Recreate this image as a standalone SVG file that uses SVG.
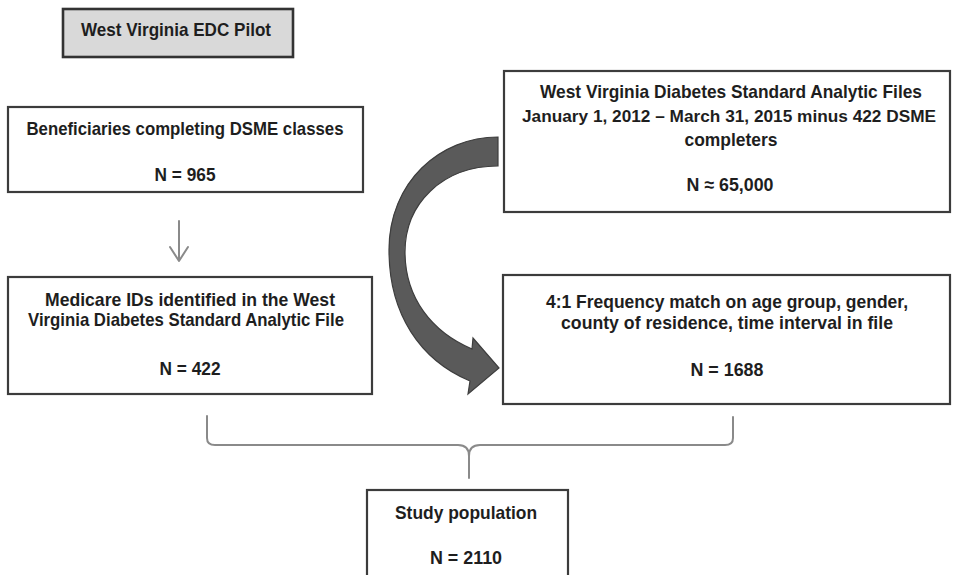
<svg xmlns="http://www.w3.org/2000/svg" width="953" height="575" viewBox="0 0 953 575">
  <defs>
    <style>
      .box { fill: #ffffff; stroke: #3c3c3c; stroke-width: 2.2; }
      .title { fill: #d9d9d9; stroke: #333333; stroke-width: 2.6; }
      .t { font-family: "Liberation Sans", Arial, sans-serif; font-weight: bold; font-size: 18.5px; fill: #1e1e1e; text-anchor: middle; }
      .thin { fill: none; stroke: #8a8a8a; stroke-width: 2; stroke-linecap: round; stroke-linejoin: round; }
      .big { fill: #5a5a5a; stroke: #3e3e3e; stroke-width: 1.2; stroke-linejoin: miter; }
    </style>
  </defs>
  <rect width="953" height="575" fill="#ffffff"/>

  <g id="connectors">
    <!-- small down arrow -->
    <path class="thin" d="M179,221 L179,261 M170,247 L179,261 L188,247"/>
    <!-- big curved arrow -->
    <path class="big" d="M498,137 C440,137 389,182 389,250 C389,314 420,360 470,381 L468,394 L499,368 L473,338 L472,349 C432,332 405,298 405,252 C405,204 442,166 498,166 Z"/>
    <!-- bracket -->
    <path class="thin" d="M207,416 L207,438 Q207,445 215,445 L458,445 Q469,445 469,456 L469,478"/>
    <path class="thin" d="M733,417 L733,438 Q733,445 725,445 L480,445 Q469,445 469,456"/>
  </g>

  <g id="title">
    <rect class="title" x="63" y="9" width="230" height="48"/>
    <text class="t" x="176" y="36" textLength="190" lengthAdjust="spacingAndGlyphs">West Virginia EDC Pilot</text>
  </g>

  <g id="dsme">
    <rect class="box" x="8" y="107" width="355" height="85"/>
    <text class="t" x="185" y="135" textLength="317" lengthAdjust="spacingAndGlyphs">Beneficiaries completing DSME classes</text>
    <text class="t" x="185" y="181" textLength="61" lengthAdjust="spacingAndGlyphs">N = 965</text>
  </g>

  <g id="saf">
    <rect class="box" x="504" y="71" width="446" height="141"/>
    <text class="t" x="731" y="98" textLength="382" lengthAdjust="spacingAndGlyphs">West Virginia Diabetes Standard Analytic Files</text>
    <text class="t" x="729" y="122" style="font-size:17.2px" textLength="414" lengthAdjust="spacingAndGlyphs">January 1, 2012 – March 31, 2015 minus 422 DSME</text>
    <text class="t" x="731" y="146" textLength="93" lengthAdjust="spacingAndGlyphs">completers</text>
    <text class="t" x="730" y="191" textLength="87" lengthAdjust="spacingAndGlyphs">N ≈ 65,000</text>
  </g>

  <g id="medicare">
    <rect class="box" x="8" y="277" width="364" height="117"/>
    <text class="t" x="190" y="306" textLength="290" lengthAdjust="spacingAndGlyphs">Medicare IDs identified in the West</text>
    <text class="t" x="186" y="326" textLength="316" lengthAdjust="spacingAndGlyphs">Virginia Diabetes Standard Analytic File</text>
    <text class="t" x="190" y="375" textLength="61" lengthAdjust="spacingAndGlyphs">N = 422</text>
  </g>

  <g id="match">
    <rect class="box" x="503" y="275" width="447" height="129"/>
    <text class="t" x="727" y="308" textLength="362" lengthAdjust="spacingAndGlyphs">4:1 Frequency match on age group, gender,</text>
    <text class="t" x="727" y="329" textLength="332" lengthAdjust="spacingAndGlyphs">county of residence, time interval in file</text>
    <text class="t" x="727" y="376" textLength="73" lengthAdjust="spacingAndGlyphs">N = 1688</text>
  </g>

  <g id="study">
    <rect class="box" x="367" y="490" width="201" height="100"/>
    <text class="t" x="466" y="519" textLength="142" lengthAdjust="spacingAndGlyphs">Study population</text>
    <text class="t" x="466" y="564" textLength="72" lengthAdjust="spacingAndGlyphs">N = 2110</text>
  </g>
</svg>
